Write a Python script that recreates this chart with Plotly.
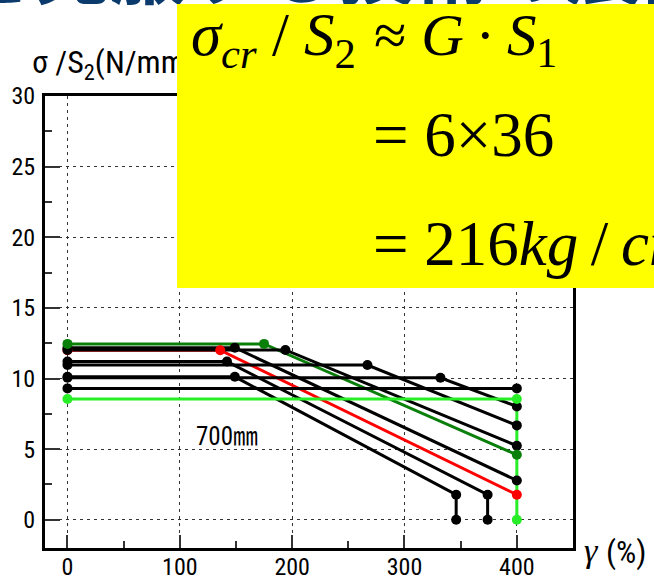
import plotly.graph_objects as go

# ---------------- data ----------------
gamma_dkgreen = [0, 175, 400]
sigma_dkgreen = [12.45, 12.45, 4.6]

gamma_red = [0, 136, 400]
sigma_red = [12.0, 12.0, 1.77]

gamma_a = [0, 149, 400]
sigma_a = [12.18, 12.18, 2.78]

gamma_b = [0, 194, 400]
sigma_b = [12.02, 12.02, 5.24]

gamma_c = [0, 142, 374, 374]
sigma_c = [11.2, 11.2, 1.77, 0]

gamma_d = [0, 149, 346, 346]
sigma_d = [10.12, 10.12, 1.77, 0]

gamma_e = [0, 267, 400]
sigma_e = [10.95, 10.95, 6.68]

gamma_f = [0, 332, 400]
sigma_f = [10.05, 10.05, 8.02]

gamma_g = [0, 400]
sigma_g = [9.3, 9.3]

gamma_ltgreen = [0, 400, 400]
sigma_ltgreen = [8.55, 8.55, 0]

x_tick_vals = [0, 100, 200, 300, 400]
y_tick_vals = [0, 5, 10, 15, 20, 25, 30]

label_700 = "700㎜"
label_700_pos = (142, 5.9)

# ---------------- styles ----------------
BLACK = "#000000"
RED = "#ff0000"
DKGREEN = "#0a7f0a"
LTGREEN = "#27ee27"
LW = 3
MS = 10

black_series = [(gamma_a, sigma_a), (gamma_b, sigma_b), (gamma_c, sigma_c),
                (gamma_d, sigma_d), (gamma_e, sigma_e), (gamma_f, sigma_f),
                (gamma_g, sigma_g)]

fig = go.Figure()

def add_line(xs, ys, color):
    fig.add_trace(go.Scatter(x=xs, y=ys, mode="lines",
                             line=dict(color=color, width=LW),
                             showlegend=False, hoverinfo="skip"))

def add_markers(xs, ys, color):
    fig.add_trace(go.Scatter(x=xs, y=ys, mode="markers",
                             marker=dict(color=color, size=MS, line=dict(width=0)),
                             showlegend=False, hoverinfo="skip"))

# lines
add_line(gamma_red, sigma_red, RED)
add_line(gamma_dkgreen, sigma_dkgreen, DKGREEN)
for xs, ys in black_series:
    add_line(xs, ys, BLACK)
add_line(gamma_ltgreen, sigma_ltgreen, LTGREEN)
# markers
add_markers(gamma_red, sigma_red, RED)
for xs, ys in black_series:
    add_markers(xs, ys, BLACK)
add_markers(gamma_dkgreen, sigma_dkgreen, DKGREEN)
add_markers(gamma_ltgreen, sigma_ltgreen, LTGREEN)

W, H = 654, 581
PL, PT, PW, PH = 45, 96, 528, 452

def fx(px):
    return (px - PL) / PW

def fy(py):
    return (PT + PH - py) / PH

SANS = "Liberation Sans Narrow, Arial Narrow, Roboto Condensed, Liberation Sans"
SERIF = "Liberation Serif, Times New Roman, serif"
TICKFONT = dict(family=SANS, size=24, color="#000000")

axis_common = dict(
    showline=True, linecolor="#000000", linewidth=3, mirror=True,
    showgrid=True, gridcolor="#333333", gridwidth=1, griddash="3px,4px",
    zeroline=False, ticks="inside", tickcolor="#333333", tickwidth=1.5,
    tickfont=TICKFONT,
)

fig.update_xaxes(range=[-20, 450], tickmode="array", tickvals=x_tick_vals,
                 ticklen=13, ticklabelstandoff=-5,
                 minor=dict(dtick=50, tick0=0, ticks="inside", ticklen=7,
                            tickcolor="#333333", tickwidth=1.5, showgrid=False),
                 **axis_common)
fig.update_yaxes(range=[-2, 30], tickmode="array", tickvals=y_tick_vals,
                 ticklen=15, ticklabelstandoff=2,
                 minor=dict(dtick=2.5, tick0=0, ticks="inside", ticklen=7,
                            tickcolor="#333333", tickwidth=1.5, showgrid=False),
                 **axis_common)

annotations = []
# large dark-blue heading (mostly cut off by the page top)
annotations.append(dict(
    xref="paper", yref="paper", x=fx(-44), y=fy(22), xanchor="left", yanchor="bottom",
    text="<b>を克服する技術の展開</b>", showarrow=False,
    font=dict(family="Noto Sans CJK JP", size=76, color="#0b3b6d")))
# y-axis title
annotations.append(dict(
    xref="paper", yref="paper", x=fx(30), y=fy(87), xanchor="left", yanchor="bottom",
    text="σ /S<sub>2</sub>(N/mm<sup>2</sup>)", showarrow=False,
    font=dict(family=SANS, size=32, color="#000000")))
# x-axis title
annotations.append(dict(
    xref="paper", yref="paper", x=fx(582), y=fy(550), xanchor="left", yanchor="middle",
    text="<i>γ</i>", showarrow=False,
    font=dict(family=SERIF, size=34, color="#000000")))
annotations.append(dict(
    xref="paper", yref="paper", x=fx(604), y=fy(552), xanchor="left", yanchor="middle",
    text="(%)", showarrow=False,
    font=dict(family=SANS, size=32, color="#000000")))
# 700mm label
annotations.append(dict(
    xref="x", yref="y", x=label_700_pos[0], y=label_700_pos[1], xanchor="center", yanchor="middle",
    text=label_700, showarrow=False,
    font=dict(family=SANS + ", Noto Sans CJK JP", size=25, color="#000000")))
# yellow box
annotations.append(dict(
    xref="paper", yref="paper", x=fx(177), y=fy(4), xanchor="left", yanchor="top",
    text=" ", showarrow=False, width=480, height=284, bgcolor="#ffff00",
    borderpad=0, borderwidth=0, align="left"))
# formula rows
MF0 = dict(family=SERIF, size=61, color="#000000")
MF1 = dict(family=SERIF, size=59, color="#000000")
MF = dict(family=SERIF, size=63, color="#000000")
annotations.append(dict(
    xref="paper", yref="paper", x=fx(358), y=fy(39), xanchor="right", yanchor="middle",
    text="<i>σ</i><sub><i>cr</i></sub> / <i>S</i><sub>2</sub>", showarrow=False, font=MF0))
annotations.append(dict(
    xref="paper", yref="paper", x=fx(372), y=fy(39), xanchor="left", yanchor="middle",
    text="≈ <i>G</i>\u2009·\u2009<i>S</i><sub>1</sub>", showarrow=False, font=MF1))
annotations.append(dict(
    xref="paper", yref="paper", x=fx(371), y=fy(135), xanchor="left", yanchor="middle",
    text="= 6×36", showarrow=False, font=MF))
annotations.append(dict(
    xref="paper", yref="paper", x=fx(371), y=fy(239), xanchor="left", yanchor="middle",
    text="= 216<i>kg</i>\u2009/\u2009<i>cm</i><sup>2</sup>", showarrow=False, font=MF))

fig.update_layout(
    width=W, height=H,
    margin=dict(l=PL, r=W - PL - PW, t=PT, b=H - PT - PH, autoexpand=False),
    paper_bgcolor="#ffffff", plot_bgcolor="#ffffff",
    showlegend=False,
    annotations=annotations,
)

fig.write_html("out.html")
